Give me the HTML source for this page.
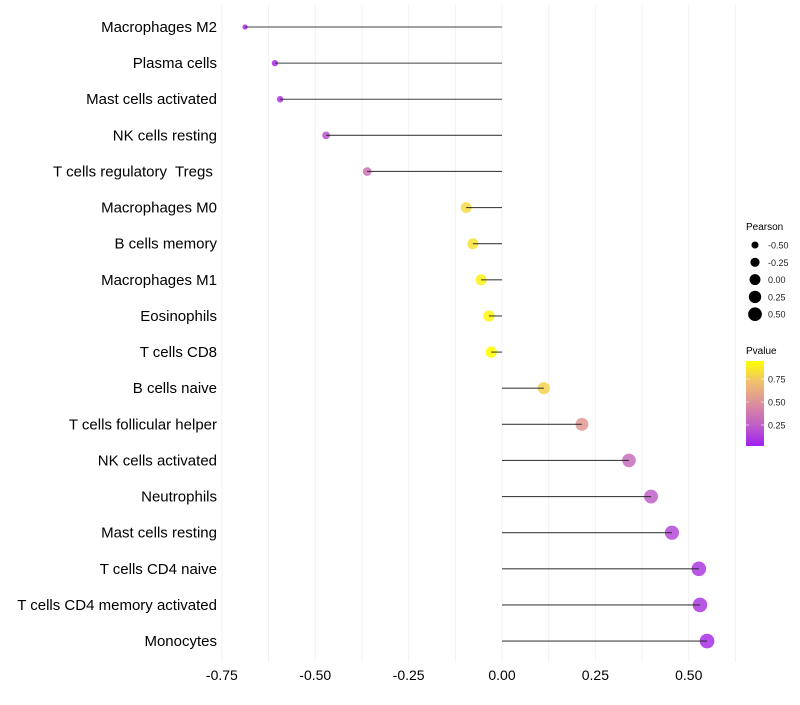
<!DOCTYPE html>
<html><head><meta charset="utf-8"><style>
body{margin:0;background:#fff}
svg{font-family:"Liberation Sans",sans-serif}
text{white-space:pre}
</style></head><body>
<svg id="c" width="800" height="700">
<defs><linearGradient id="pg" x1="0" y1="1" x2="0" y2="0">
<stop offset="0" stop-color="#A020F0"/><stop offset="0.25" stop-color="#C060C8"/><stop offset="0.5" stop-color="#DB8E9C"/><stop offset="0.75" stop-color="#F0C070"/><stop offset="1" stop-color="#FFFF00"/></linearGradient></defs>
<g id="grid"></g>
<g id="dots"></g>
<g id="marks"></g>
<g id="axes"></g>
<g font-size="10">
<text x="746" y="230" fill="#000">Pearson</text>
<g id="sizeLeg"></g>
</g>
<g font-size="10">
<text x="746" y="354" fill="#000">Pvalue</text>
<rect x="746" y="361" width="18" height="85" fill="url(#pg)"/>
<g id="colLeg"></g>
</g>
</svg>
<script>
const categories=["Macrophages M2","Plasma cells","Mast cells activated","NK cells resting","T cells regulatory  Tregs ","Macrophages M0","B cells memory","Macrophages M1","Eosinophils","T cells CD8","B cells naive","T cells follicular helper","NK cells activated","Neutrophils","Mast cells resting","T cells CD4 naive","T cells CD4 memory activated","Monocytes"];
const pearson=[-0.688,-0.608,-0.594,-0.471,-0.361,-0.096,-0.078,-0.056,-0.035,-0.029,0.112,0.214,0.34,0.399,0.455,0.527,0.530,0.549];
const pvalue=[0.03,0.05,0.06,0.2,0.35,0.85,0.88,0.95,0.97,1.0,0.82,0.55,0.32,0.25,0.16,0.1,0.1,0.06];
const xTicks=[-0.75,-0.5,-0.25,0,0.25,0.5];
const xTickLabels=["-0.75","-0.50","-0.25","0.00","0.25","0.50"];
const sizeLegVals=[-0.5,-0.25,0,0.25,0.5];
const sizeLegLabels=["-0.50","-0.25","0.00","0.25","0.50"];
const colLegVals=[0.75,0.5,0.25];
const colLegLabels=["0.75","0.50","0.25"];
const NS="http://www.w3.org/2000/svg";
const x=v=>502+v*373.5;
const y=i=>27+i*36.12;
const r=v=>Math.sqrt(Math.max(3,33+38*v));
const stops=[[0,[160,32,240]],[0.25,[192,96,200]],[0.5,[219,142,156]],[0.75,[240,192,112]],[1,[255,255,0]]];
function col(p){for(let i=1;i<stops.length;i++){if(p<=stops[i][0]){const a=stops[i-1],b=stops[i],t=(p-a[0])/(b[0]-a[0]);return "rgb("+a[1].map((c,k)=>Math.round(c+(b[1][k]-c)*t)).join(",")+")";}}return "rgb(255,255,0)";}
function mk(t,a,p){const e=document.createElementNS(NS,t);for(const k in a)e.setAttribute(k,a[k]);if(p)p.appendChild(e);return e;}
const grid=document.getElementById('grid'),marks=document.getElementById('marks'),dots=document.getElementById('dots'),axes=document.getElementById('axes');
for(let v=-0.75;v<=0.626;v+=0.125){const g=mk('line',{x1:x(v),x2:x(v),y1:5,y2:662,stroke:'#f2f2f2','stroke-width':1},grid);}
xTicks.forEach((v,i)=>{const t=mk('text',{x:x(v),y:680,'text-anchor':'middle','font-size':14,fill:'#000'},axes);t.textContent=xTickLabels[i];});
categories.forEach((c,i)=>{
const t=mk('text',{x:217,y:y(i)+5,'text-anchor':'end','font-size':15,fill:'#000'},axes);t.textContent=c;


const d=mk('circle',{cx:x(pearson[i]),cy:y(i),r:r(pearson[i]),fill:col(pvalue[i]),'fill-opacity':0.85},dots);


const l=mk('line',{x1:x(0),x2:x(pearson[i]),y1:y(i),y2:y(i),stroke:'#222','stroke-width':1.1,'stroke-opacity':0.85},marks);


});
const sl=document.getElementById('sizeLeg');
sizeLegVals.forEach((v,i)=>{const cy=245+i*17.3;
const c=mk('circle',{cx:755,cy:cy,r:r(v)*0.95,fill:'#000'},sl);
const t=mk('text',{x:768,y:cy+3.5,'font-size':9,fill:'#222'},sl);t.textContent=sizeLegLabels[i];});
const cl=document.getElementById('colLeg');
colLegVals.forEach((v,i)=>{const cy=448-v*92;
mk('line',{x1:746,x2:749,y1:cy,y2:cy,stroke:'#fff','stroke-opacity':0.6},cl);mk('line',{x1:761,x2:764,y1:cy,y2:cy,stroke:'#fff','stroke-opacity':0.6},cl);
const t=mk('text',{x:768,y:cy+3.5,'font-size':9,fill:'#222'},cl);t.textContent=colLegLabels[i];});
</script>
</body></html>
